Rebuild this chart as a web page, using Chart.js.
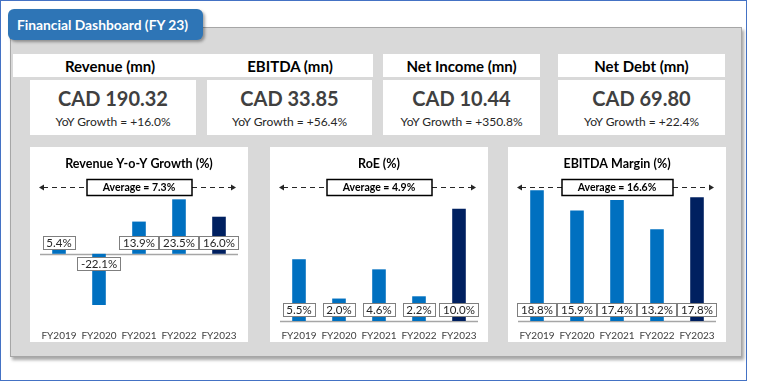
<!DOCTYPE html>
<html>
<head>
<meta charset="utf-8">
<script src="https://cdn.jsdelivr.net/npm/chart.js@4.4.1/dist/chart.umd.min.js"></script>
<style>
  body { margin: 0; width: 757px; height: 382px; background: #fff; overflow: hidden; font-family: Lato, sans-serif; }
  #frame { position: absolute; left: 0; top: 0; width: 747px; height: 381px; border: 1px solid #4472C4; box-sizing: border-box; }
  #panel { position: absolute; left: 10px; top: 27px; width: 732px; height: 330px; background: #D9D9D9; border: 1px solid #A6A6A6; box-sizing: border-box; box-shadow: 2px 3px 3px rgba(0,0,0,0.35); }
  #tab { position: absolute; left: 8px; top: 9px; width: 195px; height: 31px; background: #2E75B6; border-radius: 6px; box-shadow: 2px 2px 3px rgba(0,0,0,0.35); color: #fff; font: bold 13.8px Lato, sans-serif; line-height: 31px; padding-left: 9px; box-sizing: border-box; }
  .head, .box, .card { position: absolute; background: #fff; }
  .head { top: 54px; height: 23px; font: bold 15px Lato, sans-serif; color: #000; text-align: center; line-height: 24px; }
  .box { top: 80px; height: 55px; text-align: center; }
  .val { font: bold 20px Lato, sans-serif; color: #404040; margin-top: 8px; line-height: 20px; }
  .yoy { font: 12px Lato, sans-serif; color: #262626; margin-top: 7px; line-height: 14px; }
  .card { top: 147px; width: 218px; height: 195px; }
</style>
</head>
<body>
<div id="frame"></div>
<div id="panel"></div>
<div id="tab">Financial Dashboard (FY 23)</div>
<div id="kpis"></div>
<div class="card" style="left:30px"><canvas id="c1" width="218" height="195"></canvas></div>
<div class="card" style="left:270px"><canvas id="c2" width="218" height="195"></canvas></div>
<div class="card" style="left:508px"><canvas id="c3" width="218" height="195"></canvas></div>
<script>
// KPI cards
const kpiTitles = ['Revenue (mn)', 'EBITDA (mn)', 'Net Income (mn)', 'Net Debt (mn)'];
const kpiValues = ['CAD 190.32', 'CAD 33.85', 'CAD 10.44', 'CAD 69.80'];
const kpiGrowth = ['+16.0%', '+56.4%', '+350.8%', '+22.4%'];

// charts
const categories = ['FY2019', 'FY2020', 'FY2021', 'FY2022', 'FY2023'];
const revenueGrowth = [5.4, -22.1, 13.9, 23.5, 16.0];
const roe = [5.5, 2.0, 4.6, 2.2, 10.0];
const ebitdaMargin = [18.8, 15.9, 17.4, 13.2, 17.8];

const BLUE = '#0070C0';
const NAVY = '#002060';

// header strip [left, right], value box [left, right]
const kpiLayout = [[13, 207, 30, 196], [207, 373, 207, 372], [383, 540, 383, 540], [558, 725, 558, 725]];

const kpis = document.getElementById('kpis');
kpiTitles.forEach((t, i) => {
  const [hl, hr, bl, br] = kpiLayout[i];
  const head = document.createElement('div');
  head.className = 'head';
  head.style.left = hl + 'px';
  head.style.width = (hr - hl) + 'px';
  head.textContent = t;
  kpis.appendChild(head);
  const box = document.createElement('div');
  box.className = 'box';
  box.style.left = bl + 'px';
  box.style.width = (br - bl) + 'px';
  box.innerHTML = '<div class="val">' + kpiValues[i] + '</div><div class="yoy">YoY Growth = ' + kpiGrowth[i] + '</div>';
  kpis.appendChild(box);
});

function arrow(ctx, x, y, dir) {
  ctx.beginPath();
  ctx.moveTo(x, y);
  ctx.lineTo(x - dir * 5, y - 3);
  ctx.lineTo(x - dir * 5, y + 3);
  ctx.closePath();
  ctx.fill();
}

const overlay = {
  id: 'overlay',
  beforeDatasetsDraw(chart) {
    const {ctx, chartArea, scales} = chart;
    const y0 = Math.round(scales.y.getPixelForValue(0)) + 0.5;
    ctx.save();
    ctx.strokeStyle = '#A6A6A6';
    ctx.lineWidth = 1.5;
    ctx.beginPath();
    ctx.moveTo(chartArea.left + 1, y0);
    ctx.lineTo(chartArea.right - 1, y0);
    ctx.stroke();
    ctx.restore();
  },
  afterDatasetsDraw(chart) {
    const {ctx, chartArea, scales} = chart;
    const values = chart.data.datasets[0].data;
    const y0 = scales.y.getPixelForValue(0);
    ctx.save();
    // value labels
    ctx.font = '11.5px Lato';
    ctx.textAlign = 'center';
    ctx.textBaseline = 'middle';
    chart.getDatasetMeta(0).data.forEach((bar, i) => {
      const v = values[i];
      const text = v.toFixed(1) + '%';
      const w = Math.round(ctx.measureText(text).width + 8);
      const h = 14;
      const top = v >= 0 ? y0 - 4 - h : y0 + 3;
      const left = Math.round(bar.x - w / 2);
      ctx.fillStyle = '#fff';
      ctx.fillRect(left, Math.round(top), w, h);
      ctx.strokeStyle = '#7F7F7F';
      ctx.lineWidth = 1;
      ctx.strokeRect(left + 0.5, Math.round(top) + 0.5, w - 1, h - 1);
      ctx.fillStyle = '#262626';
      ctx.fillText(text, bar.x, Math.round(top) + h / 2 + 0.5);
    });
    // average marker
    const avg = values.reduce((a, b) => a + b, 0) / values.length;
    const text = 'Average = ' + avg.toFixed(1) + '%';
    ctx.font = 'bold 10.5px Lato';
    const bw = Math.round(ctx.measureText(text).width + 32);
    const bh = 16;
    const cx = (chartArea.left + chartArea.right) / 2;
    const ay = Math.round(chartArea.top + 12) + 0.5;
    const bl = Math.round(cx - bw / 2);
    const xl = chartArea.left;
    const xr = chartArea.right - 3;
    ctx.strokeStyle = '#262626';
    ctx.fillStyle = '#262626';
    ctx.lineWidth = 1;
    ctx.setLineDash([5, 4]);
    ctx.beginPath();
    ctx.moveTo(xl + 4, ay);
    ctx.lineTo(bl, ay);
    ctx.moveTo(bl + bw, ay);
    ctx.lineTo(xr - 4, ay);
    ctx.stroke();
    ctx.setLineDash([]);
    arrow(ctx, xl, ay, -1);
    arrow(ctx, xr, ay, 1);
    ctx.fillStyle = '#fff';
    ctx.fillRect(bl, ay - bh / 2, bw, bh);
    ctx.strokeStyle = '#000';
    ctx.lineWidth = 1.5;
    ctx.strokeRect(bl, ay - bh / 2, bw, bh);
    ctx.fillStyle = '#000';
    ctx.fillText(text, cx, ay + 0.5);
    ctx.restore();
  }
};

function makeChart(id, title, values, yMin, yMax) {
  return new Chart(document.getElementById(id), {
    type: 'bar',
    data: {
      labels: categories,
      datasets: [{
        data: values,
        backgroundColor: values.map((v, i) => i === values.length - 1 ? NAVY : BLUE),
        categoryPercentage: 1,
        barPercentage: 0.34
      }]
    },
    options: {
      responsive: false,
      animation: false,
      layout: {padding: {left: 9, right: 9, bottom: -9}},
      plugins: {
        legend: {display: false},
        tooltip: {enabled: false},
        title: {
          display: true,
          text: title,
          color: '#000',
          font: {family: 'Lato', size: 12.5, weight: 'bold'},
          padding: {top: 9, bottom: 4}
        }
      },
      scales: {
        x: {
          grid: {display: false, drawTicks: false},
          border: {display: false},
          ticks: {color: '#404040', font: {family: 'Lato', size: 10}, padding: 9,
                  maxRotation: 0, minRotation: 0, autoSkip: false}
        },
        y: {display: false, min: yMin, max: yMax}
      }
    },
    plugins: [overlay]
  });
}

makeChart('c1', 'Revenue Y-o-Y Growth (%)', revenueGrowth, -29, 34);
makeChart('c2', 'RoE (%)', roe, 0, 13);
makeChart('c3', 'EBITDA Margin (%)', ebitdaMargin, 0, 21);
</script>
</body>
</html>
